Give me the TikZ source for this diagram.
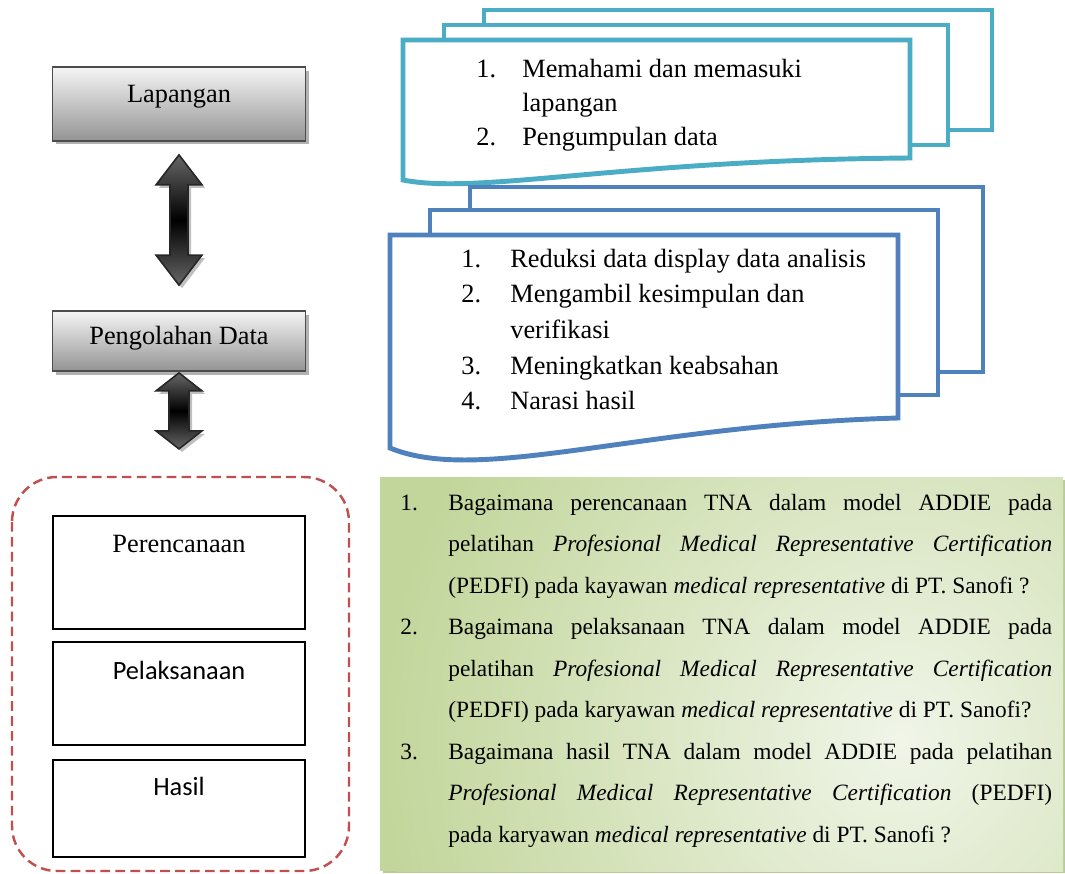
\documentclass[tikz,border=0pt]{standalone}
\usepackage{fontspec}
\setmainfont{Liberation Serif}
\newfontfamily\calibri{Carlito}
\usetikzlibrary{calc,positioning,shadows}

\definecolor{docteal}{HTML}{4BACC6}
\definecolor{docblue}{HTML}{4F81BD}
\definecolor{dashred}{HTML}{C0504D}
\definecolor{qgreen}{HTML}{C2D69B}
\definecolor{qlight}{HTML}{F0F5E8}
\definecolor{qshadow}{HTML}{B9CC98}

\begin{document}
\begin{tikzpicture}[x=0.02cm, y=-0.02cm,
  graybox/.style={draw=black!70, line width=1pt, top color=black!4, bottom color=black!42,
    minimum width=5.06cm,
    drop shadow={shadow xshift=0.07cm, shadow yshift=-0.07cm, fill=black!30, opacity=1}},
  whitebox/.style={draw, line width=1.1pt, fill=white, minimum width=5.04cm},
  boxtext/.style={font=\fontsize{15}{18}\selectfont},
  sanstext/.style={font=\calibri\fontsize{15}{18}\selectfont},
  dblarr/.style={draw=black!85, line width=0.9pt, top color=black!60, bottom color=black!60,
    middle color=black,
    drop shadow={shadow xshift=0.06cm, shadow yshift=-0.06cm, fill=black!25, opacity=1}},
  tealdoc/.style={draw=docteal, line width=2.8pt, fill=white},
  bluedoc/.style={draw=docblue, line width=2.8pt, fill=white},
  listtxt/.style={anchor=base west, inner sep=0pt},
  dashbox/.style={draw=dashred, line width=1.4pt, dash pattern=on 5.5pt off 3pt,
    rounded corners=0.9cm}]

\useasboundingbox (0,0) rectangle (1065,873);

% left column
\node[graybox, minimum height=1.48cm,
  label={[boxtext, name=laptxt, anchor=center, yshift=0.15cm]center:Lapangan}] (lap) at (179,104) {};
\node[graybox, minimum height=1.2cm,
  label={[boxtext, name=pengtxt, anchor=center, yshift=0.06cm]center:Pengolahan Data}] (peng) at (179,341) {};

\coordinate (a1t) at ($(lap.south)+(0,13)$);
\coordinate (a1b) at ($(peng.north)+(0,-25)$);
\draw[dblarr] (a1t) -- ++(23,30) -- ++(-14,0) -- ($(a1b)+(9,-30)$) -- ++(14,0) -- (a1b)
  -- ++(-23,-30) -- ++(14,0) -- ($(a1t)+(-9,30)$) -- ++(-14,0) -- cycle;

\coordinate (a2t) at ($(peng.south)+(0,1)$);
\coordinate (a2b) at ($(peng.south)+(0,77)$);
\draw[dblarr] (a2t) -- ++(23,18) -- ++(-13,0) -- ($(a2b)+(10,-18)$) -- ++(13,0) -- (a2b)
  -- ++(-23,-18) -- ++(13,0) -- ($(a2t)+(-10,18)$) -- ++(-13,0) -- cycle;

\draw[dashbox] (12,477) rectangle (349,871);
\node[whitebox, minimum height=2.26cm,
  label={[boxtext, name=plantxt, anchor=center, yshift=-0.58cm]north:Perencanaan}] (plan) at (179,572.5) {};
\node[whitebox, minimum height=2.06cm,
  label={[sanstext, name=pelatxt, anchor=center, yshift=-0.58cm]north:Pelaksanaan}] (pela) at (179,693.5) {};
\node[whitebox, minimum height=1.94cm,
  label={[sanstext, name=hasiltxt, anchor=center, yshift=-0.54cm]north:Hasil}] (hasil) at (179,808.5) {};

% top stack
\draw[tealdoc] (484,10) rectangle (992,130);
\draw[tealdoc] (444,25) rectangle (948,145);
\draw[tealdoc] (403,40) -- (910,40) -- (910,158) .. controls (620,160) and (480,195) .. (403,180) -- cycle;
\node[listtxt, font=\fontsize{15}{19.6}\selectfont] (toplist) at (476,77)
  {\begin{tabular}[t]{@{}p{0.92cm}@{}l@{}}
    1. & Memahami dan memasuki\\
       & lapangan\\
    2. & Pengumpulan data
  \end{tabular}};

% bottom stack
\draw[bluedoc] (470,187) rectangle (983,372);
\draw[bluedoc] (430,210) rectangle (938,395);
\draw[bluedoc] (390,235) -- (898,235) -- (898,418) .. controls (640,425) and (480,485) .. (390,448) -- cycle;
\node[listtxt, font=\fontsize{15}{20.3}\selectfont] (botlist) at (461,267)
  {\begin{tabular}[t]{@{}p{0.98cm}@{}l@{}}
    1. & Reduksi data display data analisis\\
    2. & Mengambil kesimpulan dan\\
       & verifikasi\\
    3. & Meningkatkan keabsahan\\
    4. & Narasi hasil
  \end{tabular}};

% questions
\fill[qshadow] (383,480) rectangle (1065,873);
\begin{scope}
  \clip (380,477) rectangle (1063,871);
  \fill[qgreen] (380,477) rectangle (1063,871);
  \shade[inner color=qlight, outer color=qgreen] (900,740) circle (520);
\end{scope}
\node[anchor=base west, inner sep=0pt, text width=13.04cm, align=justify,
  font=\fontsize{13.3}{23.64}\selectfont] (quest) at (400,510)
  {\noindent\hangindent=0.96cm\hangafter=1\makebox[0.96cm][l]{1.}Bagaimana perencanaan TNA dalam model ADDIE pada\linebreak
   pelatihan \textit{Profesional Medical Representative Certification}\linebreak
   (PEDFI) pada kayawan \textit{medical representative} di PT.~Sanofi~?\par
   \noindent\hangindent=0.96cm\hangafter=1\makebox[0.96cm][l]{2.}Bagaimana pelaksanaan TNA dalam model ADDIE pada\linebreak
   pelatihan \textit{Profesional Medical Representative Certification}\linebreak
   (PEDFI) pada karyawan \textit{medical representative} di PT.~Sanofi?\par
   \noindent\hangindent=0.96cm\hangafter=1\makebox[0.96cm][l]{3.}Bagaimana hasil TNA dalam model ADDIE pada pelatihan\linebreak
   \textit{Profesional Medical Representative Certification} (PEDFI)\linebreak
   pada karyawan \textit{medical representative} di PT.~Sanofi~?\par};
\end{tikzpicture}
\end{document}
